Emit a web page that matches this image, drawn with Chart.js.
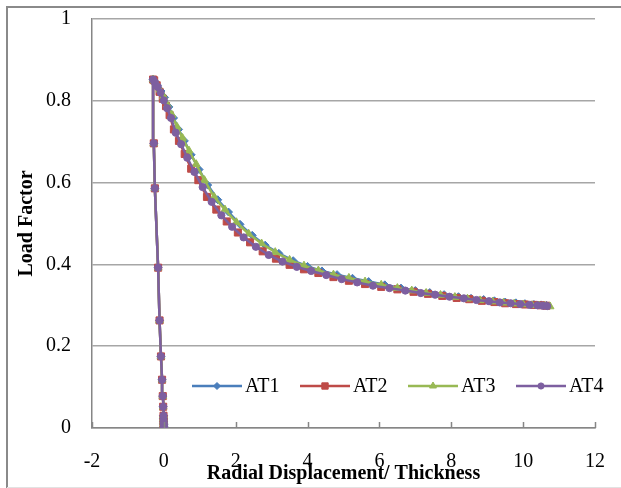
<!DOCTYPE html>
<html>
<head>
<meta charset="utf-8">
<title>Load Factor vs Radial Displacement</title>
<script src="https://cdn.jsdelivr.net/npm/chart.js@4.4.0/dist/chart.umd.min.js"></script>
<style>
  html, body { margin: 0; padding: 0; background: #fff; }
</style>
</head>
<body>
<canvas id="loadChart" width="621" height="488"></canvas>
<script>
// series names + tick labels
const seriesNames = ['AT1', 'AT2', 'AT3', 'AT4'];
const xTickLabels = [-2, 0, 2, 4, 6, 8, 10, 12];
const yTickLabels = [0, 0.2, 0.4, 0.6, 0.8, 1];

// rising branch (same for all four runs)
const riseX = [0, 0, 0, -0.005, -0.005, -0.01, -0.01, -0.02, -0.03, -0.05, -0.08, -0.12, -0.16, -0.25, -0.28, -0.3];
const riseY = [0, 0.004, 0.008, 0.012, 0.017, 0.023, 0.03, 0.052, 0.078, 0.118, 0.175, 0.263, 0.392, 0.586, 0.696, 0.852];

// falling branch, one pair of arrays per run
const at1X = [-0.26, -0.18, -0.08, 0.02, 0.14, 0.27, 0.41, 0.57, 0.76, 0.98, 1.22, 1.5, 1.8, 2.12, 2.46, 2.82, 3.2, 3.6, 4.0, 4.4, 4.82, 5.25, 5.7, 6.15, 6.6, 7.0, 7.4, 7.8, 8.2, 8.55, 8.9, 9.2, 9.5, 9.8, 10.05, 10.3, 10.5, 10.65];
const at1Y = [0.848, 0.838, 0.824, 0.808, 0.785, 0.758, 0.730, 0.702, 0.668, 0.632, 0.594, 0.558, 0.528, 0.498, 0.471, 0.447, 0.427, 0.409, 0.395, 0.384, 0.375, 0.366, 0.358, 0.350, 0.342, 0.336, 0.331, 0.326, 0.321, 0.317, 0.314, 0.311, 0.308, 0.306, 0.304, 0.302, 0.301, 0.300];

const at2X = [-0.27, -0.2, -0.12, -0.03, 0.06, 0.16, 0.28, 0.42, 0.58, 0.76, 0.96, 1.2, 1.46, 1.75, 2.06, 2.4, 2.75, 3.12, 3.5, 3.9, 4.3, 4.72, 5.15, 5.6, 6.05, 6.5, 6.95, 7.35, 7.75, 8.15, 8.5, 8.85, 9.2, 9.5, 9.8, 10.05, 10.3, 10.5, 10.65];
const at2Y = [0.850, 0.838, 0.822, 0.805, 0.787, 0.765, 0.730, 0.702, 0.670, 0.634, 0.606, 0.565, 0.534, 0.505, 0.478, 0.454, 0.432, 0.414, 0.399, 0.388, 0.379, 0.369, 0.360, 0.352, 0.345, 0.339, 0.333, 0.328, 0.323, 0.318, 0.315, 0.311, 0.308, 0.305, 0.303, 0.302, 0.301, 0.300, 0.299];

const at3X = [-0.27, -0.2, -0.11, -0.01, 0.1, 0.23, 0.37, 0.52, 0.7, 0.9, 1.13, 1.4, 1.7, 2.02, 2.36, 2.72, 3.1, 3.5, 3.9, 4.3, 4.72, 5.15, 5.6, 6.05, 6.5, 6.9, 7.3, 7.7, 8.1, 8.45, 8.8, 9.15, 9.45, 9.75, 10.0, 10.25, 10.45, 10.6, 10.75];
const at3Y = [0.849, 0.840, 0.827, 0.811, 0.790, 0.765, 0.736, 0.709, 0.678, 0.645, 0.606, 0.565, 0.534, 0.503, 0.475, 0.451, 0.430, 0.411, 0.397, 0.385, 0.375, 0.367, 0.358, 0.350, 0.342, 0.336, 0.330, 0.325, 0.320, 0.316, 0.312, 0.309, 0.306, 0.304, 0.302, 0.300, 0.299, 0.298, 0.297];

const at4X = [-0.25, -0.17, -0.09, 0, 0.09, 0.2, 0.33, 0.48, 0.65, 0.85, 1.08, 1.33, 1.6, 1.9, 2.22, 2.56, 2.92, 3.3, 3.7, 4.1, 4.52, 4.95, 5.38, 5.82, 6.28, 6.72, 7.15, 7.55, 7.95, 8.35, 8.7, 9.05, 9.35, 9.65, 9.92, 10.18, 10.4, 10.55, 10.67];
const at4Y = [0.845, 0.834, 0.820, 0.801, 0.782, 0.758, 0.722, 0.694, 0.661, 0.626, 0.589, 0.553, 0.520, 0.492, 0.466, 0.443, 0.423, 0.407, 0.394, 0.384, 0.374, 0.364, 0.356, 0.348, 0.342, 0.336, 0.330, 0.326, 0.321, 0.317, 0.313, 0.310, 0.307, 0.305, 0.303, 0.301, 0.300, 0.299, 0.298];

const colors = ['#4A7EBB', '#BE4B48', '#98B954', '#7D5FA0'];
const markers = ['rectRot', 'rect', 'triangle', 'circle'];
const markerSize = [4, 5, 4.5, 3.6];

function toPoints(xs, ys) {
    let pts = riseX.map((x, i) => ({ x: x, y: riseY[i] }));
    return pts.concat(xs.map((x, i) => ({ x: x, y: ys[i] })));
}

const allX = [at1X, at2X, at3X, at4X];
const allY = [at1Y, at2Y, at3Y, at4Y];

Chart.defaults.font.family = '"Liberation Serif", "Times New Roman", serif';
Chart.defaults.font.size = 20;
Chart.defaults.color = '#000';

// frame + inward x ticks + legend inside the plot
const extras = {
    id: 'extras',
    beforeDraw(chart) {
        const ctx = chart.ctx;
        ctx.save();
        ctx.fillStyle = '#fff';
        ctx.fillRect(0, 0, chart.width, chart.height);
        ctx.strokeStyle = '#8a8a8a';
        ctx.lineWidth = 2;
        ctx.beginPath();
        ctx.moveTo(7, 488);
        ctx.lineTo(7, 7);
        ctx.lineTo(621, 7);
        ctx.stroke();
        ctx.strokeStyle = '#e2e2e2';
        ctx.lineWidth = 1;
        ctx.beginPath();
        ctx.moveTo(7, 487.5);
        ctx.lineTo(621, 487.5);
        ctx.stroke();
        ctx.restore();
    },
    afterDraw(chart) {
        const ctx = chart.ctx;
        const xs = chart.scales.x;
        const bottom = chart.chartArea.bottom;
        ctx.save();
        ctx.strokeStyle = '#868686';
        ctx.lineWidth = 1.5;
        xs.ticks.forEach(t => {
            const px = Math.round(xs.getPixelForValue(t.value)) + 0.5;
            ctx.beginPath();
            ctx.moveTo(px, bottom);
            ctx.lineTo(px, bottom - 6);
            ctx.stroke();
        });

        // legend
        const ly = 386;
        ctx.font = '20px "Liberation Serif", "Times New Roman", serif';
        ctx.textBaseline = 'middle';
        ctx.fillStyle = '#000';
        seriesNames.forEach((name, i) => {
            const x0 = 192 + i * 108;
            ctx.strokeStyle = colors[i];
            ctx.lineWidth = 2.5;
            ctx.beginPath();
            ctx.moveTo(x0, ly);
            ctx.lineTo(x0 + 50, ly);
            ctx.stroke();
            ctx.fillStyle = colors[i];
            ctx.strokeStyle = colors[i];
            ctx.lineWidth = 1;
            Chart.helpers.drawPoint(ctx, {
                pointStyle: markers[i],
                radius: markerSize[i] - 0.5,
                rotation: 0,
                borderWidth: 1
            }, x0 + 25, ly);
            ctx.fillStyle = '#000';
            ctx.fillText(name, x0 + 53, ly + 1);
        });
        ctx.restore();
    }
};

const datasets = seriesNames.map((name, i) => ({
    label: name,
    data: toPoints(allX[i], allY[i]),
    borderColor: colors[i],
    backgroundColor: colors[i],
    borderWidth: 2.5,
    pointStyle: markers[i],
    pointRadius: markerSize[i],
    pointBorderWidth: 1,
    pointBorderColor: colors[i],
    pointBackgroundColor: colors[i],
    showLine: true,
    tension: 0,
    order: 4 - i
}));

new Chart(document.getElementById('loadChart'), {
    type: 'scatter',
    data: { datasets: datasets },
    plugins: [extras],
    options: {
        responsive: false,
        animation: false,
        layout: { padding: { left: 0, top: 19, right: 26, bottom: 0 } },
        plugins: {
            legend: { display: false },
            tooltip: { enabled: false }
        },
        scales: {
            x: {
                type: 'linear',
                min: -2,
                max: 12,
                afterFit: function(scale) {
                    scale.height = 60;
                    scale.paddingLeft = 0;
                    scale.paddingRight = 0;
                },
                afterBuildTicks: function(scale) {
                    scale.ticks = xTickLabels.map(v => ({ value: v }));
                },
                ticks: { padding: 22, maxRotation: 0, autoSkip: false },
                grid: { display: false, drawTicks: false },
                border: { display: true, color: '#868686', width: 1.5 },
                title: {
                    display: true,
                    text: 'Radial Displacement/ Thickness',
                    font: { size: 20, weight: 'bold' },
                    padding: { top: 0, bottom: 2 }
                }
            },
            y: {
                type: 'linear',
                min: 0,
                max: 1,
                afterFit: function(scale) {
                    scale.width = 92;
                    scale.paddingTop = 0;
                    scale.paddingBottom = 0;
                },
                afterBuildTicks: function(scale) {
                    scale.ticks = yTickLabels.map(v => ({ value: v }));
                },
                ticks: {
                    padding: 21,
                    callback: function(value) { return String(value); }
                },
                grid: { color: '#a6a6a6', lineWidth: 1.5, drawTicks: false },
                border: { display: true, color: '#868686', width: 1.5 },
                title: {
                    display: true,
                    text: 'Load Factor',
                    font: { size: 20, weight: 'bold' },
                    padding: { top: 15, bottom: 0 }
                }
            }
        }
    }
});
</script>
</body>
</html>
